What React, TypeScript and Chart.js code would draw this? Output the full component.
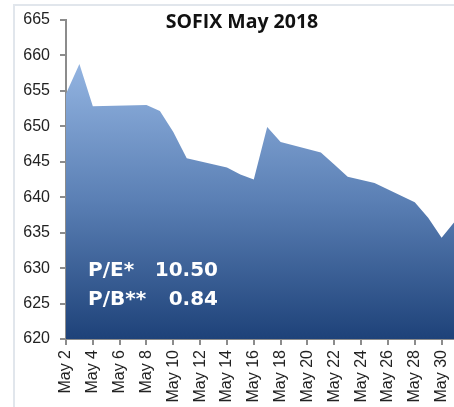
import React, { useEffect, useRef } from "react";
import { Chart, registerables } from "chart.js";

Chart.register(...registerables);

// Trading days in May 2018 and SOFIX closing values
const tradingDays: number[] = [2, 3, 4, 8, 9, 10, 11, 14, 15, 16, 17, 18, 21, 22, 23, 25, 28, 29, 30, 31];
const sofixValues: number[] = [654.6, 658.8, 652.85, 653.0, 652.15, 649.2, 645.5, 644.2, 643.2, 642.5, 649.9, 647.8, 646.3, 644.6, 642.9, 642.0, 639.3, 637.1, 634.3, 636.6];

const titleText = "SOFIX May 2018";
const ratioLabels: string[] = ["P/E*", "P/B**"];
const ratioValues: string[] = ["10.50", "0.84"];

const xMin = 2;
const xMax = 31;
const xStep = 2;
const yMin = 620;
const yMax = 665;
const yStep = 5;

const W = 456;
const H = 407;

const overlayPlugin = {
  id: "overlayText",
  afterDraw(chart: any) {
    const { ctx, chartArea } = chart;
    ctx.save();
    ctx.fillStyle = "#111";
    ctx.font = "bold 19.5px 'Open Sans'";
    ctx.textAlign = "center";
    ctx.textBaseline = "alphabetic";
    ctx.fillText(titleText, 242, 28);

    ctx.fillStyle = "#ffffff";
    ctx.font = "bold 20px 'DejaVu Sans'";
    const left = chartArea.left + 22;
    const right = chartArea.left + 152;
    const baselines = [276, 305];
    ratioLabels.forEach((lab, i) => {
      ctx.textAlign = "left";
      ctx.fillText(lab, left, baselines[i]);
      ctx.textAlign = "right";
      ctx.fillText(ratioValues[i], right, baselines[i]);
    });
    ctx.restore();
  },
};

export default function App() {
  const canvasRef = useRef<HTMLCanvasElement | null>(null);

  useEffect(() => {
    const canvas = canvasRef.current;
    if (!canvas) return;
    const peak = Math.max(...sofixValues);
    const chart = new Chart(canvas, {
      type: "line",
      data: {
        datasets: [
          {
            label: "SOFIX",
            data: tradingDays.map((d, i) => ({ x: d, y: sofixValues[i] })),
            fill: "start",
            borderWidth: 0,
            pointRadius: 0,
            tension: 0,
            backgroundColor: (c: any) => {
              const ch = c.chart;
              const area = ch.chartArea;
              if (!area) return "#5a7fb4";
              const top = ch.scales.y.getPixelForValue(peak);
              const g = ch.ctx.createLinearGradient(0, top, 0, area.bottom);
              g.addColorStop(0, "#93b4e1");
              g.addColorStop(0.5, "#5a7fb4");
              g.addColorStop(1, "#1e4279");
              return g;
            },
          },
        ],
      },
      options: {
        responsive: false,
        animation: false,
        devicePixelRatio: 1,
        layout: { padding: { top: 20, right: 1, left: 0, bottom: 0 } },
        plugins: {
          legend: { display: false },
          title: { display: false },
          tooltip: { enabled: false },
        },
        scales: {
          x: {
            type: "linear",
            min: xMin,
            max: xMax,
            afterFit: (s: any) => {
              s.height = 68;
              s.paddingLeft = 0;
              s.paddingRight = 0;
            },
            ticks: {
              stepSize: xStep,
              includeBounds: false,
              autoSkip: false,
              minRotation: 90,
              maxRotation: 90,
              padding: 5,
              color: "#222",
              font: { family: "'Liberation Sans', Arial", size: 16 },
              callback: (v: any) => "May " + v,
            },
            grid: { drawOnChartArea: false, drawTicks: true, tickLength: 6, color: "#8c8c8c", lineWidth: 2 },
            border: { display: true, color: "#8c8c8c", width: 2 },
          },
          y: {
            min: yMin,
            max: yMax,
            afterFit: (s: any) => {
              s.width = 66;
            },
            ticks: {
              stepSize: yStep,
              padding: 10,
              color: "#222",
              font: { family: "'Liberation Sans', Arial", size: 16 },
            },
            grid: { drawOnChartArea: false, drawTicks: true, tickLength: 6, color: "#8c8c8c", lineWidth: 2 },
            border: { display: true, color: "#8c8c8c", width: 2 },
          },
        },
      },
      plugins: [overlayPlugin],
    } as any);
    return () => chart.destroy();
  }, []);

  return (
    <div
      style={{
        position: "fixed",
        left: 0,
        top: 0,
        width: 454,
        height: 407,
        overflow: "hidden",
        background: "#ffffff",
      }}
    >
      <div
        style={{
          position: "absolute",
          left: 13,
          top: 4,
          width: 600,
          height: 600,
          borderLeft: "2px solid #e1e6ec",
          borderTop: "2px solid #e1e6ec",
        }}
      />
      <canvas
        ref={canvasRef}
        width={W}
        height={H}
        style={{ position: "absolute", left: 0, top: 0, width: W, height: H }}
      />
    </div>
  );
}
